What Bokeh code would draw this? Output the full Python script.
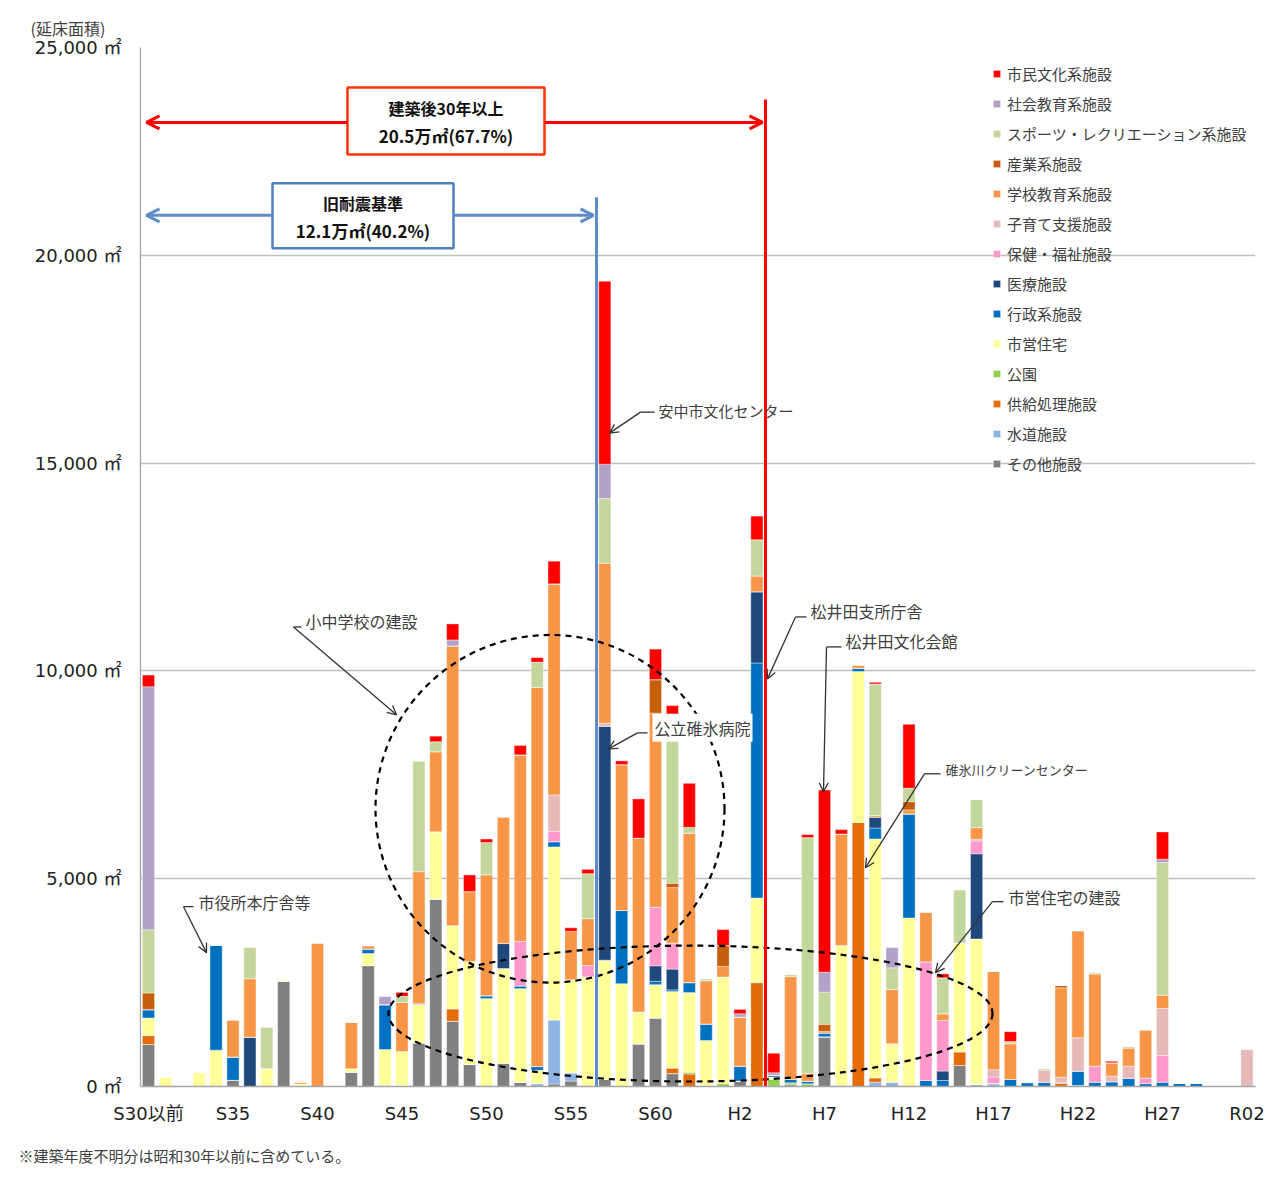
from bokeh.plotting import figure
from bokeh.models import (ColumnDataSource, FixedTicker, Legend, LegendItem, Label,
                          Arrow, OpenHead, Range1d, Title)
from bokeh.embed import file_html
from bokeh.resources import INLINE

# ---------------- data ----------------
years = (["S30以前"] + ["S%d" % n for n in range(31, 64)] +
         ["H%d" % n for n in range(1, 31)] + ["R01", "R02"])
tick_labels = ["S30以前", "S35", "S40", "S45", "S50", "S55", "S60",
               "H2", "H7", "H12", "H17", "H22", "H27", "R02"]

other = [1010, 0, 0, 0, 0, 150, 0, 0, 2530, 0,
         0, 0, 345, 2910, 30, 20, 1050, 4510, 1570, 530,
         0, 560, 100, 0, 60, 130, 0, 170, 0, 1025,
         1650, 310, 0, 0, 0, 130, 0, 0, 45, 0,
         1195, 0, 0, 0, 0, 0, 0, 0, 505, 0,
         0, 0, 0, 0, 0, 0, 0, 0, 0, 0,
         0, 0, 0, 0, 0, 0]
water = [0, 0, 0, 0, 0, 0, 0, 0, 0, 0,
         0, 0, 0, 0, 0, 0, 0, 0, 0, 0,
         0, 0, 0, 70, 1545, 200, 0, 0, 0, 0,
         0, 0, 0, 0, 0, 0, 0, 0, 0, 0,
         0, 0, 0, 105, 105, 0, 0, 0, 0, 50,
         70, 0, 0, 0, 0, 0, 0, 0, 0, 0,
         0, 0, 0, 0, 0, 0]
supply = [215, 0, 0, 0, 0, 0, 0, 0, 0, 0,
          0, 0, 0, 0, 0, 0, 0, 0, 300, 0,
          0, 0, 0, 0, 0, 0, 0, 0, 0, 0,
          0, 135, 300, 0, 0, 0, 2500, 0, 0, 0,
          0, 0, 6355, 105, 0, 0, 0, 0, 330, 0,
          0, 0, 0, 0, 90, 0, 0, 0, 0, 0,
          0, 0, 0, 0, 0, 0]
park = [0, 0, 0, 0, 0, 0, 0, 0, 0, 0,
        0, 0, 0, 0, 0, 0, 0, 0, 0, 0,
        0, 0, 0, 0, 0, 0, 0, 0, 0, 0,
        0, 0, 40, 25, 70, 0, 0, 170, 45, 65,
        0, 25, 0, 0, 0, 0, 0, 0, 0, 0,
        0, 0, 0, 0, 0, 25, 0, 0, 0, 0,
        0, 0, 0, 0, 0, 0]
housing = [425, 230, 0, 345, 875, 0, 0, 430, 40, 60,
           0, 0, 80, 290, 860, 825, 920, 1620, 2000, 2480,
           2115, 2280, 2255, 320, 4160, 2240, 2640, 2870, 2475, 770,
           800, 1840, 1920, 1080, 2565, 0, 2035, 60, 0, 0,
           0, 3365, 3630, 5745, 925, 4055, 0, 0, 2620, 3500,
           0, 0, 0, 0, 0, 0, 0, 0, 0, 0,
           0, 0, 0, 0, 0, 0]
admin = [200, 0, 0, 0, 2525, 560, 0, 0, 0, 0,
         0, 0, 0, 110, 1080, 0, 20, 0, 0, 0,
         70, 0, 65, 90, 125, 0, 0, 0, 1760, 0,
         80, 40, 240, 400, 0, 360, 5655, 40, 80, 65,
         95, 0, 80, 265, 0, 2505, 145, 145, 0, 0,
         0, 170, 95, 105, 0, 345, 105, 115, 200, 70,
         105, 75, 85, 0, 0, 0]
medical = [0, 0, 0, 0, 0, 0, 1185, 0, 0, 0,
           0, 0, 0, 0, 0, 0, 0, 0, 0, 0,
           0, 600, 0, 0, 0, 0, 0, 5630, 0, 0,
           375, 500, 0, 0, 0, 0, 1715, 0, 0, 0,
           0, 0, 0, 265, 0, 0, 0, 225, 0, 2050,
           0, 0, 0, 0, 0, 0, 0, 0, 0, 0,
           0, 0, 0, 0, 0, 0]
welfare = [0, 0, 0, 0, 0, 0, 0, 0, 0, 0,
           0, 0, 0, 0, 0, 0, 0, 0, 0, 0,
           0, 0, 1070, 0, 250, 0, 270, 0, 0, 0,
           1410, 625, 0, 0, 0, 0, 0, 0, 0, 0,
           0, 0, 0, 0, 0, 0, 2855, 1220, 0, 310,
           160, 0, 0, 0, 0, 0, 385, 0, 0, 135,
           640, 0, 0, 0, 0, 0]
child = [0, 0, 0, 0, 0, 0, 0, 0, 0, 0,
         0, 0, 0, 0, 0, 0, 0, 0, 0, 0,
         0, 0, 0, 0, 875, 0, 0, 75, 0, 0,
         0, 0, 0, 0, 0, 0, 0, 0, 0, 0,
         0, 0, 0, 0, 0, 0, 0, 0, 0, 40,
         175, 0, 0, 295, 135, 800, 0, 135, 290, 0,
         1135, 0, 0, 0, 0, 905]
school = [0, 0, 0, 0, 0, 895, 1410, 0, 0, 50,
          3455, 0, 1120, 80, 0, 1180, 3180, 1925, 6730, 1680,
          2910, 3050, 4490, 9120, 5080, 1160, 1130, 3850, 3510, 4180,
          4670, 1335, 3595, 1040, 255, 1180, 380, 0, 2475, 185,
          35, 2685, 80, 35, 1305, 95, 1200, 160, 0, 280,
          2365, 860, 0, 0, 2150, 2580, 2220, 320, 435, 1160,
          320, 0, 0, 0, 0, 0]
industry = [400, 0, 0, 0, 0, 0, 0, 0, 0, 0,
            0, 0, 0, 0, 0, 0, 0, 0, 0, 0,
            0, 0, 0, 0, 0, 0, 0, 0, 0, 0,
            805, 105, 0, 0, 500, 0, 0, 0, 0, 0,
            170, 0, 0, 0, 0, 200, 0, 0, 0, 0,
            0, 0, 0, 0, 55, 0, 0, 0, 0, 0,
            0, 0, 0, 0, 0, 0]
sports = [1520, 0, 0, 0, 0, 0, 760, 1000, 0, 0,
          0, 0, 0, 0, 0, 145, 2665, 240, 0, 0,
          775, 0, 0, 610, 0, 0, 1080, 1555, 0, 0,
          0, 4050, 140, 50, 0, 0, 870, 0, 50, 5675,
          775, 0, 0, 3165, 520, 320, 0, 865, 1280, 680,
          0, 50, 20, 40, 0, 0, 40, 0, 40, 0,
          3190, 0, 0, 0, 0, 0]
social = [5850, 0, 0, 0, 0, 0, 0, 0, 0, 0,
          0, 0, 0, 0, 200, 0, 0, 0, 145, 0,
          0, 0, 0, 0, 0, 0, 0, 825, 0, 0,
          0, 0, 0, 0, 0, 80, 0, 60, 0, 0,
          480, 0, 0, 0, 495, 0, 0, 0, 0, 0,
          0, 0, 0, 0, 0, 0, 0, 0, 0, 0,
          80, 0, 0, 0, 0, 0]
culture = [280, 0, 0, 0, 0, 0, 0, 0, 0, 0,
           0, 0, 0, 0, 0, 95, 0, 135, 385, 400,
           85, 0, 225, 110, 545, 90, 105, 4400, 90, 945,
           735, 225, 1060, 0, 385, 105, 570, 470, 0, 70,
           4385, 105, 0, 40, 0, 1540, 0, 95, 0, 0,
           0, 240, 0, 0, 0, 0, 0, 40, 0, 0,
           655, 0, 0, 0, 0, 0]

# stacking order (bottom -> top)
series_keys = ["other", "water", "supply", "park", "housing", "admin", "medical",
               "welfare", "child", "school", "industry", "sports", "social", "culture"]
series_names = ["その他施設", "水道施設", "供給処理施設", "公園", "市営住宅", "行政系施設",
                "医療施設", "保健・福祉施設", "子育て支援施設", "学校教育系施設", "産業系施設",
                "スポーツ・レクリエーション系施設", "社会教育系施設", "市民文化系施設"]
series_values = [other, water, supply, park, housing, admin, medical,
                 welfare, child, school, industry, sports, social, culture]
colors = ["#808080", "#8DB4E2", "#E46C0A", "#92D050", "#FFFF99", "#0070C0", "#1F497D",
          "#FF99CC", "#E6B9B8", "#F79646", "#C65F0C", "#C3D69B", "#B3A2C7", "#FF0000"]

# ---------------- layout helpers (page pixel -> data) ----------------
X0PX, PXX = 148.0, 16.9          # page x of first category, px per category
Y0PX, PXY = 1087.0, 0.0416       # page y of zero line, px per m2


def xd(px):
    return (px - X0PX) / PXX


def yd(py):
    return (Y0PX - py) / PXY


JP = "Noto Sans CJK JP"
AXF = "'DejaVu Sans', 'Noto Sans CJK JP'"
TXT = "#404040"

data = {"x": list(range(len(years)))}
for k, v in zip(series_keys, series_values):
    data[k] = v
source = ColumnDataSource(data)

p = figure(width=1271, height=1181, output_backend="svg", toolbar_location=None,
           x_range=Range1d(xd(140), xd(1255)), y_range=Range1d(0, 25000),
           min_border_left=140, min_border_right=16, min_border_top=47,
           min_border_bottom=94)
p.outline_line_color = None
p.background_fill_color = "white"
p.border_fill_color = "white"

renderers = p.vbar_stack(series_keys, x="x", width=0.72, color=colors, source=source,
                         line_color="white", line_width=0.4)

# axes
p.xgrid.grid_line_color = None
p.ygrid.grid_line_color = "#BFBFBF"
p.ygrid.grid_line_width = 1.3
p.xaxis.ticker = FixedTicker(ticks=[years.index(t) for t in tick_labels])
p.xaxis.major_label_overrides = {years.index(t): t for t in tick_labels}
p.yaxis.ticker = FixedTicker(ticks=[0, 5000, 10000, 15000, 20000, 25000])
p.yaxis.major_label_overrides = {v: "{:,} ㎡".format(v) for v in
                                 [0, 5000, 10000, 15000, 20000, 25000]}
for ax in (p.xaxis, p.yaxis):
    ax.axis_line_color = "#A6A6A6"
    ax.axis_line_width = 1.3
    ax.major_tick_line_color = None
    ax.minor_tick_line_color = None
    ax.major_tick_out = 0
    ax.major_tick_in = 0
    ax.major_label_text_font = AXF
    ax.major_label_text_font_size = "18px"
    ax.major_label_text_color = "#222222"
p.xaxis.major_label_standoff = 16
p.yaxis.major_label_standoff = 19

# legend (top item = last stacked series)
items = [LegendItem(label=n, renderers=[r]) for n, r in zip(series_names, renderers)]
items = items[::-1]
legend = Legend(items=items, location=(852, 612), padding=0, spacing=9,
                label_height=20, glyph_height=9, glyph_width=9, label_standoff=6,
                label_text_font=JP, label_text_font_size="15px",
                label_text_color=TXT, border_line_color=None,
                background_fill_alpha=0, margin=0)
p.add_layout(legend)

# dashed ellipses
p.ellipse(x=[xd(549.5), xd(690)], y=[yd(809), yd(1014)],
          width=[349 / PXX, 604 / PXX], height=[348 / PXY, 136 / PXY],
          fill_alpha=0, line_color="black", line_width=2.2, line_dash="6 5")

# vertical boundary lines
p.segment(x0=[xd(596)], y0=[0], x1=[xd(596)], y1=[yd(197)],
          line_color="#5F8DC8", line_width=3)
p.segment(x0=[xd(765)], y0=[0], x1=[xd(765)], y1=[yd(99)],
          line_color="#FF0000", line_width=3)


# range arrows
def harrow(x_from, x_to, y, color, w):
    p.add_layout(Arrow(end=OpenHead(size=13, line_color=color, line_width=w),
                       x_start=xd(x_from), y_start=yd(y), x_end=xd(x_to), y_end=yd(y),
                       line_color=color, line_width=w))


harrow(347, 146, 122, "#FF0000", 3)
harrow(544, 762, 122, "#FF0000", 3)
harrow(272, 146, 215, "#5F8DC8", 3)
harrow(453, 593, 215, "#5F8DC8", 3)

# boxes
p.quad(left=[xd(347), xd(272)], right=[xd(544), xd(453)],
       top=[yd(87), yd(183)], bottom=[yd(154), yd(248)],
       fill_color="white", line_color=["#FF3300", "#4F81BD"], line_width=2.5)


def label(px, py, text, size="16px", align="left", bold=False, color=TXT, bg=None):
    lab = Label(x=xd(px), y=yd(py), text=text, text_font=JP, text_font_size=size,
                text_align=align, text_baseline="middle", text_color=color,
                text_font_style="bold" if bold else "normal")
    if bg is not None:
        lab.background_fill_color = bg
        lab.padding = 2
    p.add_layout(lab)


label(445.5, 108, "建築後30年以上", "16px", "center", True, "#111111")
label(445.5, 135, "20.5万㎡(67.7%)", "17px", "center", True, "#111111")
label(362.5, 203, "旧耐震基準", "16px", "center", True, "#111111")
label(362.5, 230, "12.1万㎡(40.2%)", "17px", "center", True, "#111111")

# callouts
callouts = [
    ("市役所本庁舎等", 198, 902, [(193, 907), (183, 907), (206, 953)], "16px"),
    ("小中学校の建設", 305, 621, [(301, 627), (293, 627), (396, 715)], "16px"),
    ("安中市文化センター", 658, 410, [(654, 412), (640, 412), (609, 433)], "15px"),
    ("松井田支所庁舎", 810, 611, [(806, 617), (795, 617), (767, 679)], "16px"),
    ("松井田文化会館", 845, 641, [(841, 647), (826, 647), (823, 792)], "16px"),
    ("碓氷川クリーンセンター", 945, 770, [(940, 774), (924, 774), (865, 868)], "13px"),
    ("市営住宅の建設", 1008, 897, [(1003, 902), (992, 902), (935, 973)], "16px"),
]
for text, tx, ty, pts, fs in callouts:
    label(tx, ty, text, fs)
    p.line([xd(a) for a, b in pts[:-1]], [yd(b) for a, b in pts[:-1]],
           line_color="#333333", line_width=1.3)
    (xa, ya), (xb, yb) = pts[-2], pts[-1]
    p.add_layout(Arrow(end=OpenHead(size=9, line_color="#333333", line_width=1.3),
                       x_start=xd(xa), y_start=yd(ya), x_end=xd(xb), y_end=yd(yb),
                       line_color="#333333", line_width=1.3))

# hospital callout with white background
label(652, 728, "公立碓氷病院", "16px", bg="white")
p.line([xd(647), xd(637)], [yd(733), yd(733)], line_color="#333333", line_width=1.3)
p.add_layout(Arrow(end=OpenHead(size=9, line_color="#333333", line_width=1.3),
                   x_start=xd(637), y_start=yd(733), x_end=xd(608), y_end=yd(749),
                   line_color="#333333", line_width=1.3))

# axis title (top-left) and footnote (bottom)
p.title.text = "(延床面積)"
p.title.align = "left"
p.title.offset = -110
p.title.text_font = JP
p.title.text_font_size = "16px"
p.title.text_font_style = "normal"
p.title.text_color = TXT
p.title.standoff = 15

foot = Title(text="※建築年度不明分は昭和30年以前に含めている。", align="left", offset=-122,
             text_font=JP, text_font_size="15px", text_font_style="normal",
             text_color=TXT, standoff=32)
p.add_layout(foot, "below")

open("out.html", "w").write(file_html(p, INLINE))
